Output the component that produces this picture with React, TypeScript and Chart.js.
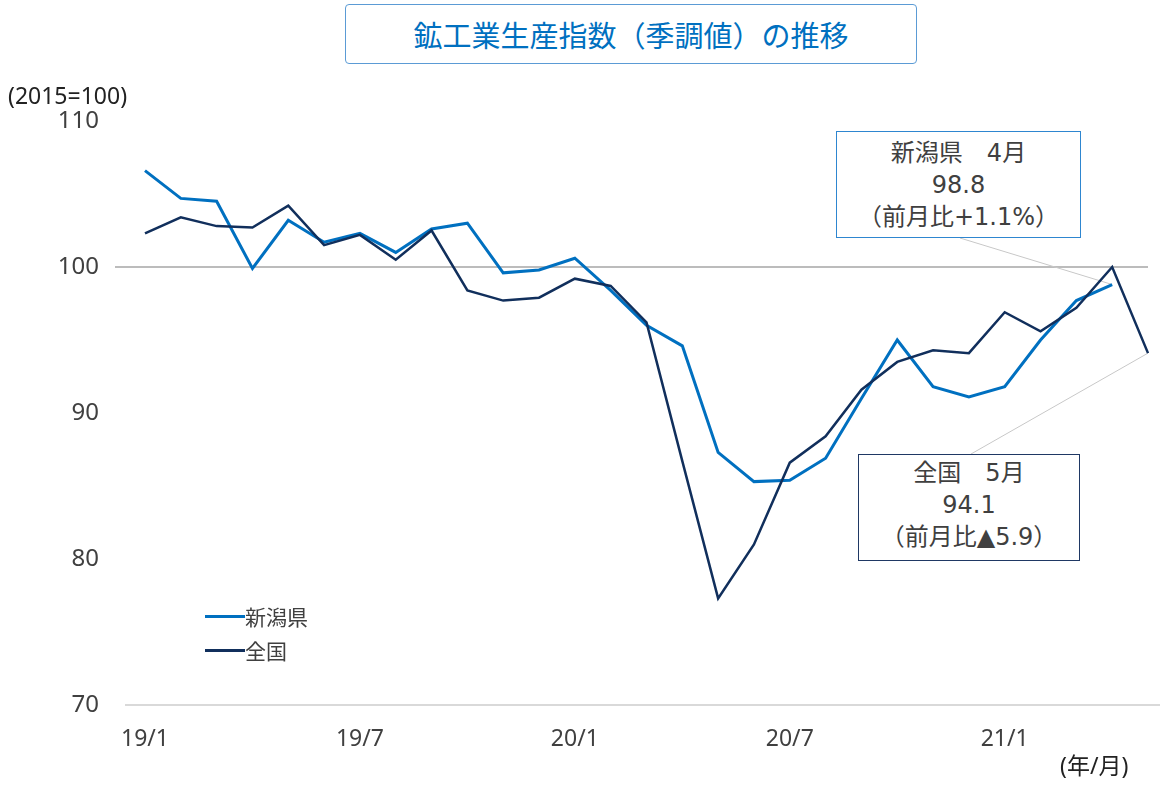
import React, { useEffect, useRef } from 'react';
import { Chart, registerables } from 'chart.js';
Chart.register(...registerables);

const AXIS_FONT = "'Noto Sans', 'Noto Sans CJK JP', sans-serif";
const BOX_FONT = "'DejaVu Sans', 'Noto Sans CJK JP', sans-serif";
const CJK_FONT = "'Noto Sans CJK JP', 'Noto Sans', sans-serif";

const months = [
  '19/1','19/2','19/3','19/4','19/5','19/6','19/7','19/8','19/9','19/10','19/11','19/12',
  '20/1','20/2','20/3','20/4','20/5','20/6','20/7','20/8','20/9','20/10','20/11','20/12',
  '21/1','21/2','21/3','21/4','21/5',
];
const tickMonths = ['19/1', '19/7', '20/1', '20/7', '21/1'];
const yTicks = [70, 80, 90, 100, 110];

const niigata = [
  106.6, 104.7, 104.5, 99.9, 103.2, 101.7, 102.3, 101.0, 102.6, 103.0, 99.6, 99.8,
  100.6, 98.4, 96.0, 94.6, 87.3, 85.3, 85.4, 86.9, 91.0, 95.0, 91.8, 91.1,
  91.8, 95.0, 97.7, 98.8,
];
const zenkoku = [
  102.3, 103.4, 102.8, 102.7, 104.2, 101.5, 102.2, 100.5, 102.5, 98.4, 97.7, 97.9,
  99.2, 98.7, 96.2, 86.7, 77.3, 81.0, 86.6, 88.4, 91.6, 93.5, 94.3, 94.1,
  96.9, 95.6, 97.2, 100.0, 94.1,
];

const NIIGATA_COLOR = '#0070C0';
const ZENKOKU_COLOR = '#112F5C';

const refLinePlugin = {
  id: 'refLine',
  beforeDatasetsDraw(chart: any) {
    const { ctx, scales, chartArea } = chart;
    const x = scales.x;
    const y = scales.y;
    const yp = y.getPixelForValue(100);
    ctx.save();
    ctx.strokeStyle = '#A6A6A6';
    ctx.lineWidth = 1.5;
    ctx.beginPath();
    ctx.moveTo(chartArea.left - 11, yp);
    ctx.lineTo(x.getPixelForValue(months.length - 1), yp);
    ctx.stroke();

    // leader lines
    ctx.strokeStyle = '#C8C8C8';
    ctx.lineWidth = 1;
    const ni = niigata.length - 1;
    ctx.beginPath();
    ctx.moveTo(960, 238);
    ctx.lineTo(x.getPixelForValue(ni), y.getPixelForValue(niigata[ni]));
    ctx.stroke();
    const zi = zenkoku.length - 1;
    ctx.beginPath();
    ctx.moveTo(971, 454);
    ctx.lineTo(x.getPixelForValue(zi), y.getPixelForValue(zenkoku[zi]));
    ctx.stroke();
    ctx.restore();
  },
};

function ChartCanvas() {
  const ref = useRef<HTMLCanvasElement | null>(null);
  useEffect(() => {
    if (!ref.current) return;
    const chart = new Chart(ref.current, {
      type: 'line',
      data: {
        datasets: [
          {
            label: '新潟県',
            data: niigata.map((v, i) => ({ x: i, y: v })),
            borderColor: NIIGATA_COLOR,
            borderWidth: 3,
            pointRadius: 0,
            tension: 0,
            order: 2,
          },
          {
            label: '全国',
            data: zenkoku.map((v, i) => ({ x: i, y: v })),
            borderColor: ZENKOKU_COLOR,
            borderWidth: 2.5,
            pointRadius: 0,
            tension: 0,
            order: 1,
          },
        ],
      },
      options: {
        responsive: false,
        animation: false,
        layout: { padding: { top: 121, left: 0, right: 0, bottom: 0 } },
        plugins: { legend: { display: false }, tooltip: { enabled: false } },
        scales: {
          x: {
            type: 'linear',
            min: -0.53,
            max: 28.335,
            afterBuildTicks: (s: any) => {
              s.ticks = tickMonths.map((m) => ({ value: months.indexOf(m) }));
            },
            ticks: {
              callback: (v: any) => months[v],
              color: '#404040',
              font: { size: 23, family: AXIS_FONT },
              padding: 21,
              maxRotation: 0,
              autoSkip: false,
            },
            grid: { display: false, drawTicks: false },
            border: { display: true, color: '#D9D9D9', width: 2 },
            afterFit: (s: any) => {
              s.height = 82;
            },
          },
          y: {
            min: 70,
            max: 110,
            afterBuildTicks: (s: any) => {
              s.ticks = yTicks.map((v) => ({ value: v }));
            },
            ticks: {
              color: '#404040',
              font: { size: 24, family: AXIS_FONT },
              padding: 27,
            },
            grid: { display: false, drawTicks: false },
            border: { display: false },
            afterFit: (s: any) => {
              s.width = 126;
            },
          },
        },
      },
      plugins: [refLinePlugin],
    } as any);
    return () => chart.destroy();
  }, []);
  return <canvas ref={ref} width={1160} height={787} style={{ position: 'absolute', left: 0, top: 0 }} />;
}

const boxText: React.CSSProperties = {
  position: 'absolute',
  background: '#fff',
  color: '#404040',
  fontFamily: BOX_FONT,
  fontSize: 24,
  lineHeight: '32px',
  textAlign: 'center',
  boxSizing: 'border-box',
  whiteSpace: 'nowrap',
};

export default function App() {
  return (
    <div style={{ position: 'absolute', left: 0, top: 0, width: 1160, height: 787, background: '#fff', overflow: 'hidden', fontFamily: AXIS_FONT }}>
      <ChartCanvas />
      <div
        style={{
          position: 'absolute', left: 345, top: 4, width: 572, height: 60, boxSizing: 'border-box',
          border: '1px solid #5B9BD5', borderRadius: 4, color: '#0070C0', fontSize: 29, fontFamily: CJK_FONT,
          display: 'flex', alignItems: 'center', justifyContent: 'center', background: '#fff',
        }}
      >
        鉱工業生産指数（季調値）の推移
      </div>
      <div style={{ position: 'absolute', left: 8, top: 78, fontSize: 23, lineHeight: '34px', color: '#222', whiteSpace: 'nowrap' }}>(2015=100)</div>
      <div style={{ ...boxText, left: 836, top: 131, width: 245, height: 107, border: '1.5px solid #2E86D0', paddingTop: 5 }}>
        <div>新潟県　4月</div>
        <div>98.8</div>
        <div>（前月比+1.1%）</div>
      </div>
      <div style={{ ...boxText, left: 858, top: 454, width: 222, height: 107, border: '1.5px solid #1F3864', paddingTop: 2 }}>
        <div>全国　5月</div>
        <div>94.1</div>
        <div>（前月比▲5.9）</div>
      </div>
      <div style={{ position: 'absolute', left: 205, top: 599, fontSize: 21, fontFamily: CJK_FONT, color: '#404040', lineHeight: '34px' }}>
        <div style={{ display: 'flex', alignItems: 'center' }}>
          <span style={{ display: 'inline-block', width: 40, height: 3, background: NIIGATA_COLOR }} />
          <span>新潟県</span>
        </div>
        <div style={{ display: 'flex', alignItems: 'center' }}>
          <span style={{ display: 'inline-block', width: 40, height: 3, background: ZENKOKU_COLOR }} />
          <span>全国</span>
        </div>
      </div>
      <div style={{ position: 'absolute', left: 1060, top: 748, fontSize: 23, lineHeight: '34px', color: '#222', whiteSpace: 'nowrap' }}>(年/月)</div>
    </div>
  );
}
